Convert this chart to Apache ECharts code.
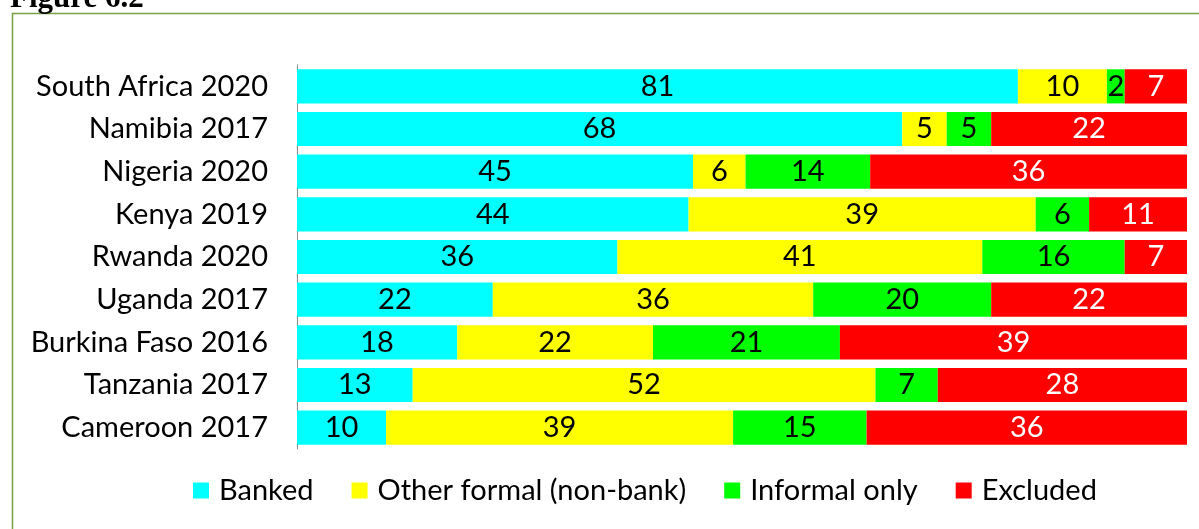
<!DOCTYPE html>
<html><head><meta charset="utf-8">
<script src="https://cdn.jsdelivr.net/npm/echarts@6/dist/echarts.min.js"></script>
<style>html,body{margin:0;padding:0;background:#fff}#c{width:1199px;height:529px}</style>
</head><body><div id="c"></div>
<script>
const categories = ["South Africa 2020","Namibia 2017","Nigeria 2020","Kenya 2019","Rwanda 2020","Uganda 2017","Burkina Faso 2016","Tanzania 2017","Cameroon 2017"];
const banked = [81,68,44.5,44,36,22,18,13,10];
const otherFormal = [10,5,5.9,39,41,36,22,52,39];
const informal = [2,5,14,6,16,20,21,7,15];
const excluded = [7,22,35.6,11,7,22,39,28,36];
const seriesNames = ["Banked","Other formal (non-bank)","Informal only","Excluded"];
const colors = ["#00FFFF","#FFFF00","#00FF00","#FF0000"];
const labelColors = ["#000","#000","#000","#fff"];
const FONT = "Lato";
const chart = echarts.init(document.getElementById('c'));
const all = [banked, otherFormal, informal, excluded];
chart.setOption({
  animation:false,
  textStyle:{fontFamily:FONT},
  graphic:[
    {type:'rect', shape:{x:12.5,y:13.5,width:1300,height:600}, style:{fill:'none',stroke:'#77A043',lineWidth:1.5}, silent:true},
    {type:'text', left:10, top:-17, style:{text:'Figure 6.2', font:'bold 31px "Liberation Serif"', fill:'#000'}}
  ],
  legend:{
    bottom:19, left:188, itemWidth:16, itemHeight:16, itemGap:38,
    icon:'rect',
    textStyle:{fontSize:29, color:'#000', fontFamily:FONT, padding:[0,0,0,5]},
    data:seriesNames
  },
  grid:{left:297, right:12, top:65, bottom:80, containLabel:false},
  xAxis:{type:'value', min:0, max:100, show:false},
  yAxis:{type:'category', data:categories, inverse:true,
    axisLine:{lineStyle:{color:'#8c8c8c',width:1}},
    axisTick:{length:10, lineStyle:{color:'#8c8c8c'}},
    axisLabel:{fontSize:29, color:'#000', margin:29, fontFamily:FONT}
  },
  series: all.map((d,i)=>({
    name:seriesNames[i], type:'bar', stack:'t', data:d, barCategoryGap:'20%',
    itemStyle:{color:colors[i]},
    label:{show:true, position:'inside', color:labelColors[i], fontSize:29, fontFamily:FONT,
      formatter:p=>Math.round(p.value)}
  }))
});
</script></body></html>
